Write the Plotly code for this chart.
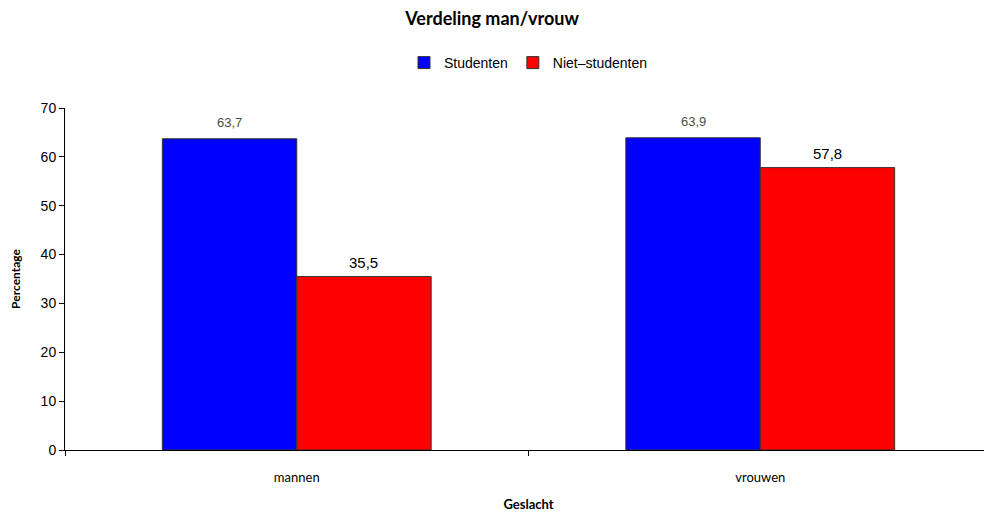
import plotly.graph_objects as go

categories = ["mannen", "vrouwen"]
studenten = [63.7, 63.9]
niet_studenten = [35.5, 57.8]
y_ticks = [0, 10, 20, 30, 40, 50, 60, 70]

# the page body adds an 8px margin, so the figure is a bit smaller than the window
W, H = 984, 504
L, R, T, B = 57, 0, 100, 62
BARGAP = 0.42
# half a bar width in pixels, used to put the value labels over each bar
half_bar = (W - L - R) / len(categories) * (1 - BARGAP) / 4

fig = go.Figure()
fig.add_bar(
    name="Studenten", x=categories, y=studenten,
    marker=dict(color="#0000FF", line=dict(color="#333333", width=1)),
)
fig.add_bar(
    name="Niet\u2013studenten", x=categories, y=niet_studenten,
    marker=dict(color="#FF0000", line=dict(color="#333333", width=1)),
)

# value labels
for cat, v in zip(categories, studenten):
    fig.add_annotation(x=cat, y=v, xshift=-half_bar, yshift=7, yanchor="bottom",
                       text=f"{v:.1f}".replace(".", ","), showarrow=False,
                       font=dict(family="Liberation Sans, Arial", size=13, color="#4D4D4D"))
for cat, v in zip(categories, niet_studenten):
    fig.add_annotation(x=cat, y=v, xshift=half_bar, yshift=4, yanchor="bottom",
                       text=f"{v:.1f}".replace(".", ","), showarrow=False,
                       font=dict(family="Liberation Sans, Arial", size=15, color="#000000"))

fig.update_layout(
    width=W, height=H,
    barmode="group", bargap=BARGAP, bargroupgap=0,
    paper_bgcolor="#FFFFFF", plot_bgcolor="#FFFFFF",
    margin=dict(l=L, r=R, t=T, b=B, autoexpand=False),
    title=dict(text="<b>Verdeling man/vrouw</b>", x=0.492, xanchor="center",
               yref="container", y=1 - 11 / H, yanchor="middle",
               font=dict(family="Lato, Open Sans", size=18, color="#000000")),
    legend=dict(orientation="h", x=0.5, xanchor="center",
                yref="container", y=1 - 55 / H, yanchor="middle",
                font=dict(family="Liberation Sans, Arial", size=14, color="#000000"),
                itemwidth=30, traceorder="normal"),
    font=dict(family="Liberation Sans, Arial", color="#000000"),
    showlegend=True,
)
fig.update_xaxes(
    automargin=False,
    showline=True, linecolor="#000000", linewidth=1,
    ticks="outside", tickson="boundaries", ticklen=5, tickcolor="#000000",
    ticklabelstandoff=15,
    tickfont=dict(family="Lato, Open Sans", size=13, color="#000000"),
    title=dict(text="<b>Geslacht</b>", standoff=17,
               font=dict(family="Lato, Open Sans", size=13, color="#000000")),
    showgrid=False,
)
fig.update_yaxes(
    automargin=False,
    range=[0, 70], tickvals=y_ticks,
    showline=True, linecolor="#000000", linewidth=1,
    ticks="outside", ticklen=5, tickcolor="#000000",
    tickfont=dict(family="Liberation Sans, Arial", size=14, color="#000000"),
    title=dict(text="<b>Percentage</b>", standoff=24,
               font=dict(family="Lato, Open Sans", size=12, color="#000000")),
    showgrid=False, zeroline=False,
)

fig.write_html("out.html")
